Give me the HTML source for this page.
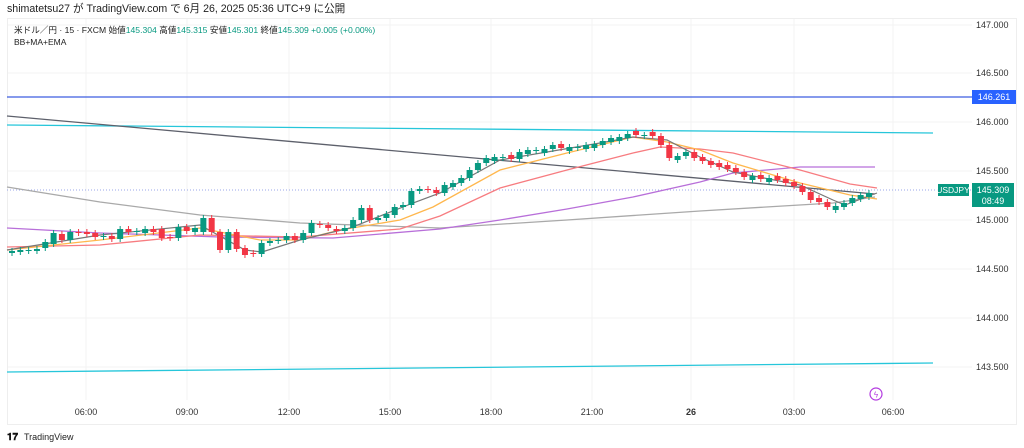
<!DOCTYPE html>
<html><head><meta charset="utf-8"><style>
body{margin:0;width:1024px;height:448px;background:#fff;overflow:hidden;font-family:"Liberation Sans","Noto Sans CJK JP",sans-serif}
svg{position:absolute;left:0;top:0}
</style></head><body>
<svg id="s" width="1024" height="448" xmlns="http://www.w3.org/2000/svg" font-family="Liberation Sans, Noto Sans CJK JP, sans-serif">
<text x="7" y="12" font-size="10.6" fill="#222">shimatetsu27 が TradingView.com で 6月 26, 2025 05:36 UTC+9 に公開</text>
<rect x="7.5" y="18.5" width="1009" height="406" fill="none" stroke="#eeeeee"/>
<g stroke="#f3f3f3" stroke-width="1">
<line x1="86" y1="19" x2="86" y2="400"/><line x1="187" y1="19" x2="187" y2="400"/><line x1="289" y1="19" x2="289" y2="400"/><line x1="390" y1="19" x2="390" y2="400"/><line x1="491" y1="19" x2="491" y2="400"/><line x1="592" y1="19" x2="592" y2="400"/><line x1="691" y1="19" x2="691" y2="400"/><line x1="794" y1="19" x2="794" y2="400"/><line x1="893" y1="19" x2="893" y2="400"/>
<line x1="8" y1="25" x2="972" y2="25"/><line x1="8" y1="73" x2="972" y2="73"/><line x1="8" y1="122" x2="972" y2="122"/><line x1="8" y1="171" x2="972" y2="171"/><line x1="8" y1="220" x2="972" y2="220"/><line x1="8" y1="269" x2="972" y2="269"/><line x1="8" y1="318" x2="972" y2="318"/><line x1="8" y1="367" x2="972" y2="367"/>
</g>
<text x="14" y="33" font-size="8.6" fill="#222">米ドル／円 · 15 · FXCM  始値<tspan fill="#089981">145.304</tspan>  高値<tspan fill="#089981">145.315</tspan>  安値<tspan fill="#089981">145.301</tspan>  終値<tspan fill="#089981">145.309  +0.005 (+0.00%)</tspan></text>
<text x="14" y="45" font-size="8.5" fill="#222">BB+MA+EMA</text>
<g font-size="9" fill="#333">
<text x="976" y="28">147.000</text><text x="976" y="76">146.500</text><text x="976" y="125">146.000</text><text x="976" y="174">145.500</text><text x="976" y="223">145.000</text><text x="976" y="272">144.500</text><text x="976" y="321">144.000</text><text x="976" y="370">143.500</text>
</g>
<g font-size="9" fill="#333" text-anchor="middle">
<text x="86" y="415">06:00</text><text x="187" y="415">09:00</text><text x="289" y="415">12:00</text><text x="390" y="415">15:00</text><text x="491" y="415">18:00</text><text x="592" y="415">21:00</text><text x="691" y="415" font-weight="bold">26</text><text x="794" y="415">03:00</text><text x="893" y="415">06:00</text>
</g>
<line x1="7" y1="97" x2="972" y2="97" stroke="#3d5ee0" stroke-width="1.3"/>
<rect x="972" y="90" width="44" height="14" fill="#2962ff"/><text x="994" y="100" font-size="9" fill="#fff" text-anchor="middle">146.261</text>
<line x1="7" y1="125" x2="933" y2="133" stroke="#26c6da" stroke-width="1.3"/>
<line x1="7" y1="372" x2="933" y2="363" stroke="#26c6da" stroke-width="1.3"/>
<line x1="7" y1="190" x2="972" y2="190" stroke="#9aa6e8" stroke-width="1" stroke-dasharray="1,2"/>
<line x1="7" y1="116" x2="875" y2="194" stroke="#5d606b" stroke-width="1.3"/>
<polyline fill="none" stroke="#a9a9a9" stroke-width="1.3" points="7,187 100,202 200,215 300,223 440,228 567,220 700,211 833,203 875,197"/>
<polyline fill="none" stroke="#b86fd9" stroke-width="1.3" points="7,228 100,233 220,237 333,238 440,229 500,220 567,209 633,197 700,182 733,173 800,167 875,167"/>
<polyline fill="none" stroke="#f77c80" stroke-width="1.3" points="7,247 100,245 200,235 300,237 400,229 440,216 500,188 567,170 633,153 660,147 700,149 733,153 800,170 850,184 877,188"/>
<polyline fill="none" stroke="#ffb74d" stroke-width="1.3" points="7,250 100,240 200,228 220,232 260,240 300,240 340,230 400,220 433,207 500,170 567,153 633,137 667,142 700,150 733,163 800,183 850,195 877,199"/>
<polyline fill="none" stroke="#777" stroke-width="1.2" points="7,250 100,235 200,225 245,250 262,252 300,240 350,228 413,203 440,193 500,160 600,143 633,137 667,140 700,157 733,172 800,185 833,200 845,205 877,193"/>
<g id="c"></g>
<rect x="938" y="184" width="31" height="12" fill="#089981"/><text x="953" y="193" font-size="8.5" fill="#fff" text-anchor="middle">USDJPY</text>
<rect x="972" y="183" width="42" height="24" fill="#089981"/><text x="993" y="193" font-size="9" fill="#fff" text-anchor="middle">145.309</text><text x="993" y="204" font-size="9" fill="#fff" text-anchor="middle">08:49</text>
<circle cx="876" cy="394" r="6" fill="none" stroke="#b33be0" stroke-width="1.2"/><text x="876" y="397.5" font-size="8" fill="#b33be0" text-anchor="middle">ϟ</text>
<text x="7" y="440" font-size="10" font-weight="bold" fill="#111">𝟏𝟕</text><text x="24" y="440" font-size="9" fill="#222">TradingView</text>
</svg>
<script>
var oc=[[253,251],[252,250],[251,250],[251,249],[248,242],[244,233],[234,240],[240,232],[232,233],[232,234],[233,237],[237,236],[236,239],[239,229],[229,232],[232,231],[233,229],[229,232],[229,238],[237,238],[238,227],[227,231],[232,228],[232,218],[218,232],[232,250],[250,232],[232,249],[248,255],[253,254],[254,243],[243,241],[241,240],[240,236],[236,240],[240,233],[233,223],[224,225],[225,228],[229,231],[231,228],[228,220],[220,208],[208,220],[220,218],[218,214],[215,207],[207,205],[205,191],[191,189],[189,190],[190,193]];
var cl=[185,183,178,170,163,158,157,157,159,152,150,150,149,145,148,147,147,145,144,141,138,137,134,135,135,136,145,158,156,152,158,161,165,167,169,172,177,176,179,178,180,183,186,192,200,202,207,206,203,198,195,193];
var p=193;cl.forEach(function(c){var o;if(c<p)o=Math.max(p,c+4);else if(c>p)o=Math.min(p,c-4);else o=p;oc.push([o,c]);p=c;});
var g=document.getElementById('c'),h='';
oc.forEach(function(v,i){var x=12+i*8.32,o=v[0],c=v[1],up=c<=o,col=up?'#089981':'#f23645',t=Math.min(o,c),b=Math.max(o,c);if(b-t<1){b=t+1;}
h+='<line x1="'+x+'" x2="'+x+'" y1="'+(t-3)+'" y2="'+(b+3)+'" stroke="'+col+'"/>';
h+='<rect x="'+(x-3)+'" y="'+t+'" width="6" height="'+(b-t)+'" fill="'+col+'"/>';});
g.innerHTML=h;
</script>
</body></html>
